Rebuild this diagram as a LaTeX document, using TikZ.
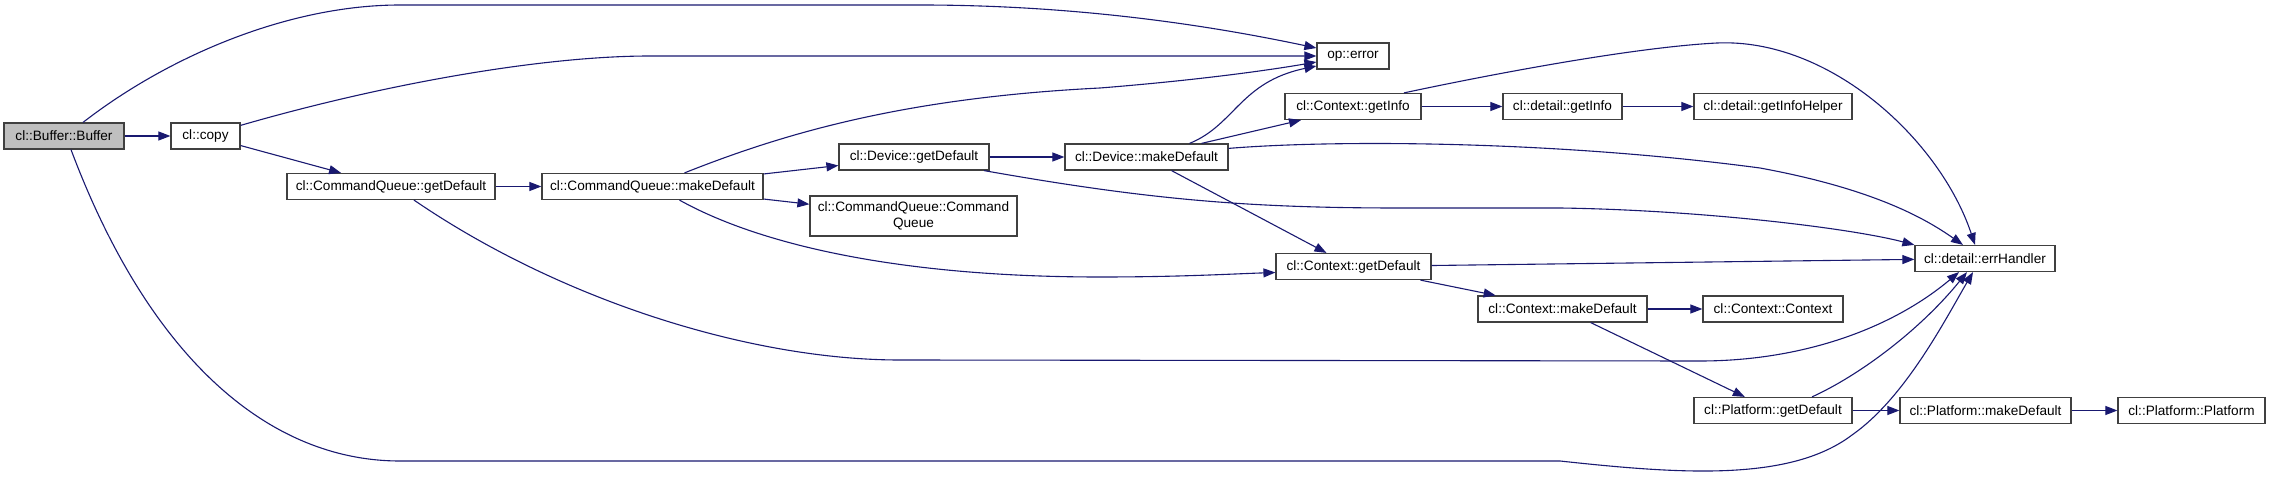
\documentclass[tikz,border=0pt]{standalone}
\usepackage{fontspec}
\setmainfont{Liberation Sans}
\usetikzlibrary{arrows.meta}
\definecolor{callline}{HTML}{191970}
\definecolor{boxline}{HTML}{404040}
\definecolor{rootfill}{HTML}{BFBFBF}

\begin{document}
\begin{tikzpicture}[
    x=1pt, y=-1pt,
    >={Triangle[length=12pt, width=9pt]},
    font=\fontsize{13.6}{15.5}\selectfont,
    fnbox/.style={
        draw=boxline,
        line width=1.2pt,
        fill=white,
        align=center,
        inner sep=0pt,
        minimum height=26pt,
        minimum width=#1
    },
    rootfn/.style={fnbox=#1, fill=rootfill},
    call/.style={->, draw=callline, fill=none, line width=1.1pt}
]
\useasboundingbox (0,0) rectangle (2271,478);

% Functions
\node[rootfn=120pt] (buf) at (64,136) {cl::Buffer::Buffer};
\node[fnbox=69pt] (copy) at (205.5,136) {cl::copy};
\node[fnbox=208pt] (cqget) at (391,186.5) {cl::CommandQueue::getDefault};
\node[fnbox=221pt] (cqmake) at (652.5,186.5) {cl::CommandQueue::makeDefault};
\node[fnbox=150pt] (devget) at (914,157) {cl::Device::getDefault};
\node[fnbox=207pt, minimum height=40pt] (cqctor) at (913.5,216) {cl::CommandQueue::Command\\Queue};
\node[fnbox=72pt] (operr) at (1353,56) {op::error};
\node[fnbox=163pt] (devmake) at (1146.5,157) {cl::Device::makeDefault};
\node[fnbox=136pt] (ctxinfo) at (1353,106.5) {cl::Context::getInfo};
\node[fnbox=119pt] (detinfo) at (1562.5,106.5) {cl::detail::getInfo};
\node[fnbox=158pt] (helper) at (1773,106.5) {cl::detail::getInfoHelper};
\node[fnbox=155pt] (ctxget) at (1353.5,266.5) {cl::Context::getDefault};
\node[fnbox=169pt] (ctxmake) at (1562.5,309) {cl::Context::makeDefault};
\node[fnbox=140pt] (ctxctor) at (1773,309) {cl::Context::Context};
\node[fnbox=140pt] (errh) at (1985,258.5) {cl::detail::errHandler};
\node[fnbox=158pt] (platget) at (1773,410.5) {cl::Platform::getDefault};
\node[fnbox=171pt] (platmake) at (1985.5,410.5) {cl::Platform::makeDefault};
\node[fnbox=147pt] (platctor) at (2191.5,410.5) {cl::Platform::Platform};

% Calls from cl::Buffer::Buffer
\draw[call] (buf) -- (copy);
\draw[call] ([xshift=19pt]buf.north) .. controls (170,55) and (290,5) .. (400,5)
    -- (920,5) .. controls (1100,5) and (1240,32) .. ([yshift=8pt]operr.west);
\draw[call] ([xshift=7pt]buf.south) .. controls (150,360) and (270,461) .. (400,461)
    -- (1560,461) .. controls (1680,474) and (1790,482) .. (1852,435)
    .. controls (1905,398) and (1945,320) .. ([xshift=-12pt]errh.south);

% Calls from cl::copy
\draw[call] (copy) -- (cqget);
\draw[call] ([yshift=-3pt]copy.north east) .. controls (380,85) and (540,56) .. (650,56)
    -- (operr.west);

% Calls from cl::CommandQueue::getDefault
\draw[call] (cqget) -- (cqmake);
\draw[call] ([xshift=23pt]cqget.south) .. controls (560,300) and (750,360) .. (900,360)
    -- (1700,361) .. controls (1800,361) and (1890,330) .. ([xshift=-26pt]errh.south);

% Calls from cl::CommandQueue::makeDefault
\draw[call] ([xshift=32pt]cqmake.north) .. controls (780,135) and (900,98) .. (1100,88)
    .. controls (1200,80) and (1270,70) .. ([yshift=-6pt]operr.west);
\draw[call] (cqmake) -- (devget);
\draw[call] (cqmake) -- (cqctor);
\draw[call] ([xshift=27pt]cqmake.south) .. controls (760,245) and (900,277) .. (1100,277)
    .. controls (1180,277) and (1230,274) .. ([yshift=-6pt]ctxget.west);

% Calls from cl::Device::getDefault
\draw[call] (devget) -- (devmake);
\draw[call] ([xshift=70pt]devget.south) .. controls (1150,200) and (1250,208) .. (1400,208)
    -- (1560,208) .. controls (1700,210) and (1850,228) .. (errh.north west);

% Calls from cl::Device::makeDefault
\draw[call] ([xshift=43pt]devmake.north) .. controls (1235,125) and (1240,82) .. ([yshift=-10pt]operr.west);
\draw[call] ([xshift=55pt]devmake.north) -- ([xshift=-52pt]ctxinfo.south);
\draw[call] ([yshift=-5pt]devmake.north east) .. controls (1330,140) and (1550,140) .. (1760,168)
    .. controls (1880,190) and (1930,222) .. ([xshift=-22pt]errh.north);
\draw[call] ([xshift=25pt]devmake.south) -- ([xshift=-27pt]ctxget.north);

% Calls from cl::Context::getInfo
\draw[call] (ctxinfo) -- (detinfo);
\draw[call] (detinfo) -- (helper);
\draw[call] ([xshift=51pt]ctxinfo.north) .. controls (1450,83) and (1620,48) .. (1717,43)
    .. controls (1830,38) and (1940,140) .. ([xshift=-10pt]errh.north);

% Calls from cl::Context::getDefault
\draw[call] (ctxget) -- (errh);
\draw[call] (ctxget) -- (ctxmake);
\draw[call] (ctxmake) -- (ctxctor);
\draw[call] (ctxmake) -- (platget);

% Calls from cl::Platform::getDefault
\draw[call] ([xshift=39pt]platget.north) .. controls (1860,375) and (1920,330) .. ([xshift=-18pt]errh.south);
\draw[call] (platget) -- (platmake);
\draw[call] (platmake) -- (platctor);

\end{tikzpicture}
\end{document}
